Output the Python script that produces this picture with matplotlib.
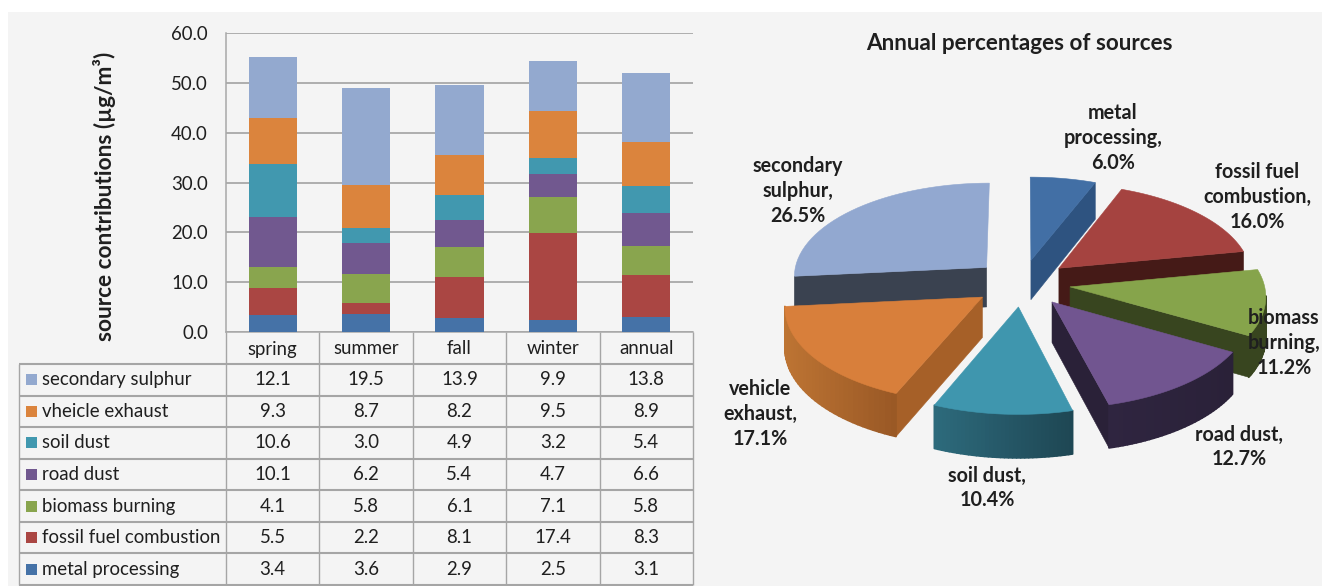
import numpy as np
import matplotlib
matplotlib.use("Agg")
import matplotlib.pyplot as plt
from matplotlib.patches import Polygon, Rectangle
from matplotlib.colors import to_rgb

plt.rcParams['font.family'] = ['Lato', 'DejaVu Sans']

# ---------- data ----------
seasons = ["spring", "summer", "fall", "winter", "annual"]
sources = ["metal processing", "fossil fuel combustion", "biomass burning",
           "road dust", "soil dust", "vheicle exhaust", "secondary sulphur"]
metal_processing = [3.4, 3.6, 2.9, 2.5, 3.1]
fossil_fuel = [5.5, 2.2, 8.1, 17.4, 8.3]
biomass_burning = [4.1, 5.8, 6.1, 7.1, 5.8]
road_dust = [10.1, 6.2, 5.4, 4.7, 6.6]
soil_dust = [10.6, 3.0, 4.9, 3.2, 5.4]
vehicle_exhaust = [9.3, 8.7, 8.2, 9.5, 8.9]
secondary_sulphur = [12.1, 19.5, 13.9, 9.9, 13.8]
series = [metal_processing, fossil_fuel, biomass_burning, road_dust,
          soil_dust, vehicle_exhaust, secondary_sulphur]
yticks = [0, 10, 20, 30, 40, 50, 60]

pie_labels = ["metal\nprocessing,", "fossil fuel\ncombustion,", "biomass\nburning,",
              "road dust,", "soil dust,", "vehicle\nexhaust,", "secondary\nsulphur,"]
pie_values = [6.0, 16.0, 11.2, 12.7, 10.4, 17.1, 26.5]

# ---------- style ----------
W, H = 1322, 586
colors = ["#4572a7", "#aa4643", "#89a54e", "#71588f", "#4198af", "#db843d", "#93a9cf"]
pie_tops = ["#426fa5", "#a54340", "#86a44b", "#715590", "#3f96ae", "#d87f3b", "#92a8d0"]
cut_cols = ["#2e5380", "#451a17", "#38451f", "#2a2138", "#24606f", "#a66028", "#3a4250"]
arc_left = ["#2e5380", "#451a17", "#38451f", "#2f2540", "#2d6a7c", "#bd7433", "#3a4250"]
arc_right = ["#2e5380", "#451a17", "#38451f", "#2a2138", "#1e4653", "#995825", "#3a4250"]
label_xy = [(1113, 138), (1257, 197), (1284, 343), (1239, 447), (987, 488), (760, 414), (798, 191)]
draw_order = [6, 0, 1, 2, 5, 3, 4]
grid = "#a8a8a8"
txt = "#1f1f1f"
fs = 13.4

fig = plt.figure(figsize=(W / 100, H / 100), dpi=100, facecolor="white")
ov = fig.add_axes([0, 0, 1, 1], zorder=1)
ov.set_xlim(0, W)
ov.set_ylim(H, 0)
ov.axis("off")
ov.add_patch(Rectangle((8, 12), W, H, fc="#f4f4f4", ec="none", zorder=0))

# ---------- stacked bars ----------
ax_l, ax_r, ax_t, ax_b = 226, 693, 33, 332
ax = fig.add_axes([ax_l / W, 1 - ax_b / H, (ax_r - ax_l) / W, (ax_b - ax_t) / H], zorder=2)
ax.patch.set_alpha(0)
x = np.arange(len(seasons)) + 0.5
bottom = np.zeros(len(seasons))
for vals, c in zip(series, colors):
    ax.bar(x, vals, 0.515, bottom=bottom, color=c, zorder=3)
    bottom += np.array(vals)
ax.set_xlim(0, len(seasons))
ax.set_ylim(0, 60)
ax.set_yticks(yticks)
ax.set_yticklabels([f"{v:.1f}" for v in yticks], fontsize=fs, color=txt)
ax.set_xticks([])
ax.tick_params(axis="y", length=0, pad=13)
ax.grid(axis="y", color=grid, lw=1.3, zorder=0)
ax.set_axisbelow(True)
for s in ("top", "right"):
    ax.spines[s].set_visible(False)
for s in ("left", "bottom"):
    ax.spines[s].set_color(grid)
    ax.spines[s].set_linewidth(1.1)

ov.text(105, 196, "source contributions (µg/m³)", rotation=90, ha="center", va="center",
        fontsize=16.3, fontweight="bold", color=txt)

# ---------- data table ----------
col_w = (ax_r - ax_l) / len(seasons)
tab_left = 19
head_top, head_bot, tab_bot = ax_b, 364, 585
row_h = (tab_bot - head_bot) / len(sources)
line = dict(color="#a5a5a5", solid_capstyle="butt", zorder=1)
for i in range(len(seasons) + 1):
    ov.plot([ax_l + i * col_w] * 2, [head_top, tab_bot], lw=1.0, **line)
ov.plot([tab_left, tab_left], [head_bot, tab_bot], lw=1.0, **line)
for r in range(len(sources) + 1):
    ov.plot([tab_left, ax_r], [head_bot + r * row_h] * 2, lw=1.5, **line)
for i, s in enumerate(seasons):
    ov.text(ax_l + (i + .5) * col_w, (head_top + head_bot) / 2 + 1, s, ha="center", va="center",
            fontsize=fs, color=txt)
for r, idx in enumerate(range(len(sources) - 1, -1, -1)):
    yc = head_bot + (r + .5) * row_h
    ov.add_patch(Rectangle((26, yc - 5.5), 11, 11, fc=colors[idx], ec="none", zorder=2))
    ov.text(42, yc, sources[idx], ha="left", va="center", fontsize=fs, color=txt)
    for i in range(len(seasons)):
        ov.text(ax_l + (i + .5) * col_w, yc, f"{series[idx][i]:.1f}", ha="center", va="center",
                fontsize=fs, color=txt)

# ---------- exploded 3D pie ----------
cx, cy = 1022, 283
rx, ry = 194, 94
persp = 0.085
explode = 0.25
depth = 40
fr = np.cumsum([0] + pie_values) / np.sum(pie_values) * 2 * np.pi


def project(u, v):
    f = 1 / (1 - persp * v)
    return cx + rx * u * f, cy + ry * v * f


def drop(v):
    return depth * (1 + 0.07 * v)


def blend(a, b, t):
    a, b = np.array(to_rgb(a)), np.array(to_rgb(b))
    return tuple(a + (b - a) * t)


for z, k in enumerate(draw_order):
    a0, a1 = fr[k], fr[k + 1]
    mid = (a0 + a1) / 2
    ex, ey = explode * np.sin(mid), -explode * np.cos(mid)
    th = np.linspace(a0, a1, 36)
    us = ex + np.sin(th)
    vs = ey - np.cos(th)
    px, py = project(us, vs)
    ax0, ay0 = project(ex, ey)
    ad = drop(ey)
    zb = 10 + z * 3
    ds = drop(vs)
    # cut faces: only those that turn toward the viewer
    for j, facing in ((0, -np.sin(a0)), (-1, np.sin(a1))):
        if facing > 1e-6:
            poly = [(ax0, ay0), (px[j], py[j]), (px[j], py[j] + ds[j]), (ax0, ay0 + ad)]
            ov.add_patch(Polygon(poly, closed=True, fc=cut_cols[k], ec=cut_cols[k], lw=.4, zorder=zb))
    # rim, shaded piece by piece from left to right
    xmin, xmax = px.min(), px.max()
    for j in range(len(th) - 1):
        if np.cos((th[j] + th[j + 1]) / 2) > -0.1:
            continue
        t = ((px[j] + px[j + 1]) / 2 - xmin) / max(xmax - xmin, 1)
        c = blend(arc_left[k], arc_right[k], t)
        poly = [(px[j], py[j]), (px[j + 1], py[j + 1]),
                (px[j + 1], py[j + 1] + ds[j + 1]), (px[j], py[j] + ds[j])]
        ov.add_patch(Polygon(poly, closed=True, fc=c, ec=c, lw=1.2, joinstyle="round", zorder=zb + 1))
    # top
    top = [(ax0, ay0)] + list(zip(px, py))
    ov.add_patch(Polygon(top, closed=True, fc=pie_tops[k], ec=pie_tops[k], lw=.4, zorder=zb + 2))

ov.text(1019, 43, "Annual percentages of sources", ha="center", va="center",
        fontsize=16.2, fontweight="bold", color=txt, zorder=60)
for lab, val, (lx, ly) in zip(pie_labels, pie_values, label_xy):
    ov.text(lx, ly, f"{lab}\n{val:.1f}%", ha="center", va="center", fontsize=14.2,
            fontweight="bold", color=txt, linespacing=1.3, zorder=60)

fig.savefig("out.png", dpi=100, facecolor=fig.get_facecolor())
